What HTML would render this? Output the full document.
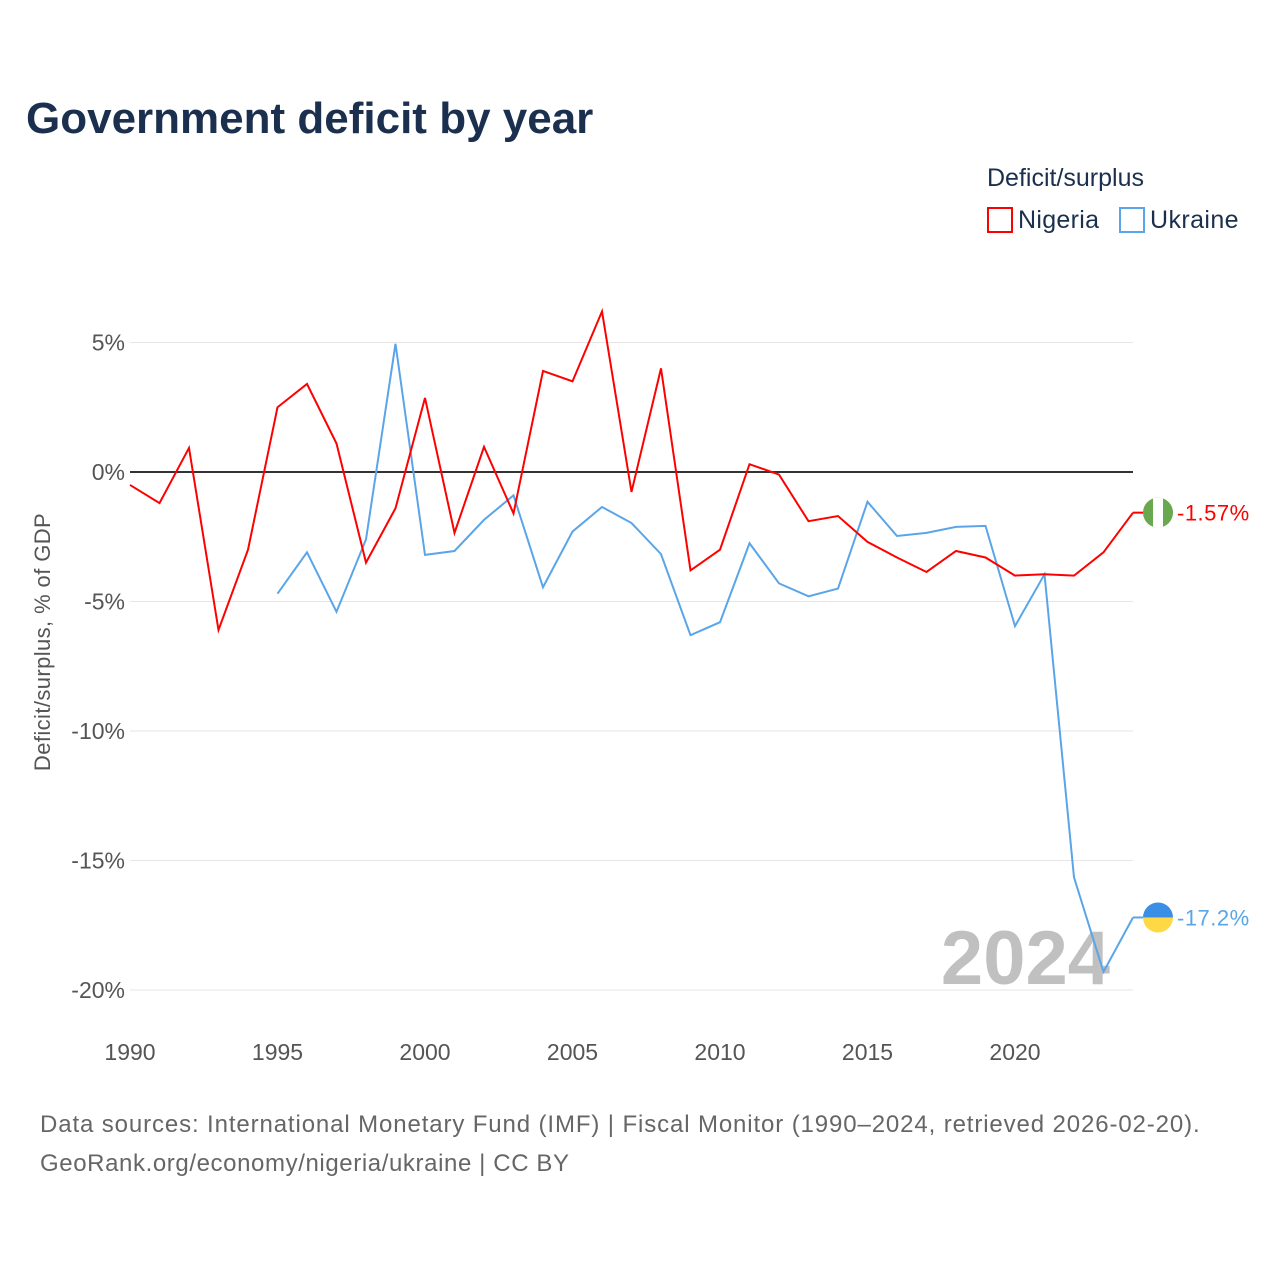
<!DOCTYPE html>
<html><head><meta charset="utf-8">
<style>
body{margin:0;background:#fff;font-family:"Liberation Sans",sans-serif;}
#wrap{position:relative;width:1280px;height:1280px;overflow:hidden;}
</style></head>
<body>
<div id="wrap">
<svg id="chart" width="1280" height="1280">
<text x="26" y="133" font-size="44" font-weight="bold" fill="#1b2f4e">Government deficit by year</text>
<text x="987" y="186" font-size="25" fill="#1b2f4e">Deficit/surplus</text>
<g><rect x="988" y="208" width="24" height="24" fill="none" stroke="#f00" stroke-width="2"/><text x="1018" y="228" font-size="25" fill="#1b2f4e" letter-spacing="0.3">Nigeria</text></g>
<g><rect x="1120" y="208" width="24" height="24" fill="none" stroke="#5aa5e8" stroke-width="2"/><text x="1150" y="228" font-size="25" fill="#1b2f4e" letter-spacing="0.4">Ukraine</text></g>
<g id="grid"></g>
<text x="1110" y="984" font-size="76" font-weight="bold" fill="#c0c0c0" text-anchor="end">2024</text>
<g id="series"></g>
<text transform="translate(50,642) rotate(-90)" font-size="22" fill="#555" text-anchor="middle" letter-spacing="0.4">Deficit/surplus, % of GDP</text>
<text x="40" y="1132" font-size="24" fill="#666" letter-spacing="0.88">Data sources: International Monetary Fund (IMF) | Fiscal Monitor (1990–2024, retrieved 2026-02-20).</text>
<text x="40" y="1171" font-size="24" fill="#666" letter-spacing="0.6">GeoRank.org/economy/nigeria/ukraine | CC BY</text>
</svg>
</div>
<script>
const years=[];for(let y=1990;y<=2024;y++)years.push(y);
const nigeria=[-0.5,-1.2,0.93,-6.1,-3.0,2.5,3.4,1.1,-3.5,-1.4,2.86,-2.35,0.97,-1.6,3.9,3.5,6.2,-0.77,4.0,-3.8,-3.0,0.3,-0.1,-1.9,-1.7,-2.7,-3.3,-3.86,-3.05,-3.3,-4.0,-3.95,-4.0,-3.1,-1.57];
const ukraine=[null,null,null,null,null,-4.7,-3.1,-5.4,-2.6,4.95,-3.2,-3.05,-1.85,-0.9,-4.45,-2.3,-1.35,-1.97,-3.17,-6.3,-5.8,-2.75,-4.3,-4.8,-4.5,-1.15,-2.47,-2.35,-2.12,-2.08,-5.95,-3.95,-15.65,-19.3,-17.2];
const yTicks=[5,0,-5,-10,-15,-20];
const xTicks=[1990,1995,2000,2005,2010,2015,2020];
const xs=y=>130+(y-1990)*(1133-130)/34;
const ys=v=>472-v*25.9;
const NS="http://www.w3.org/2000/svg";
function mk(t,a,p){const e=document.createElementNS(NS,t);for(const k in a)e.setAttribute(k,a[k]);p.appendChild(e);return e;}
const g=document.getElementById('grid');
yTicks.forEach(v=>{
 const l=mk('line',{x1:130,x2:1133,y1:ys(v),y2:ys(v),stroke:v===0?'#333':'#e6e6e6','stroke-width':v===0?2:1},g);
 
 
 const t=mk('text',{x:125,y:ys(v)+8,'font-size':23,fill:'#555','text-anchor':'end'},g);
 t.textContent=v+'%';
 
 
});
xTicks.forEach(v=>{
 const t=mk('text',{x:xs(v),y:1060,'font-size':23,fill:'#555','text-anchor':'middle'},g);
 t.textContent=v;
 
 
});
const s=document.getElementById('series');
function line(arr,color,name){
 let d='';arr.forEach((v,i)=>{if(v===null)return;d+=(d?'L':'M')+xs(years[i])+','+ys(v);});
 const p=mk('path',{d:d,fill:'none',stroke:color,'stroke-width':2},s);
 
 
}
line(ukraine,'#5aa5e8','ukraine-line');
line(nigeria,'#f00','nigeria-line');
const nl=nigeria[nigeria.length-1],ul=ukraine[ukraine.length-1];
const defs=mk('defs',{},s);
const cp1=mk('clipPath',{id:'c1'},defs);mk('circle',{cx:1158,cy:ys(nl),r:15},cp1);
const cp2=mk('clipPath',{id:'c2'},defs);mk('circle',{cx:1158,cy:ys(ul),r:15},cp2);
const f1=mk('g',{'clip-path':'url(#c1)'},s);


mk('rect',{x:1143,y:ys(nl)-15,width:30,height:30,fill:'#6aa84f'},f1);
mk('rect',{x:1153,y:ys(nl)-15,width:10,height:30,fill:'#fff'},f1);
const f2=mk('g',{'clip-path':'url(#c2)'},s);


mk('rect',{x:1143,y:ys(ul)-15,width:30,height:15,fill:'#3a8ee6'},f2);
mk('rect',{x:1143,y:ys(ul),width:30,height:15,fill:'#ffd845'},f2);
mk('line',{x1:1133,x2:1143,y1:ys(nl),y2:ys(nl),stroke:'#f00','stroke-width':2},s);
mk('line',{x1:1133,x2:1143,y1:ys(ul),y2:ys(ul),stroke:'#5aa5e8','stroke-width':2},s);
const t1=mk('text',{x:1177,y:ys(nl)+8,'font-size':22,fill:'#f00','letter-spacing':0.5},s);t1.textContent=nl+'%';


const t2=mk('text',{x:1177,y:ys(ul)+8,'font-size':22,fill:'#5aa5e8','letter-spacing':0.5},s);t2.textContent=ul+'%';


</script>
</body></html>
